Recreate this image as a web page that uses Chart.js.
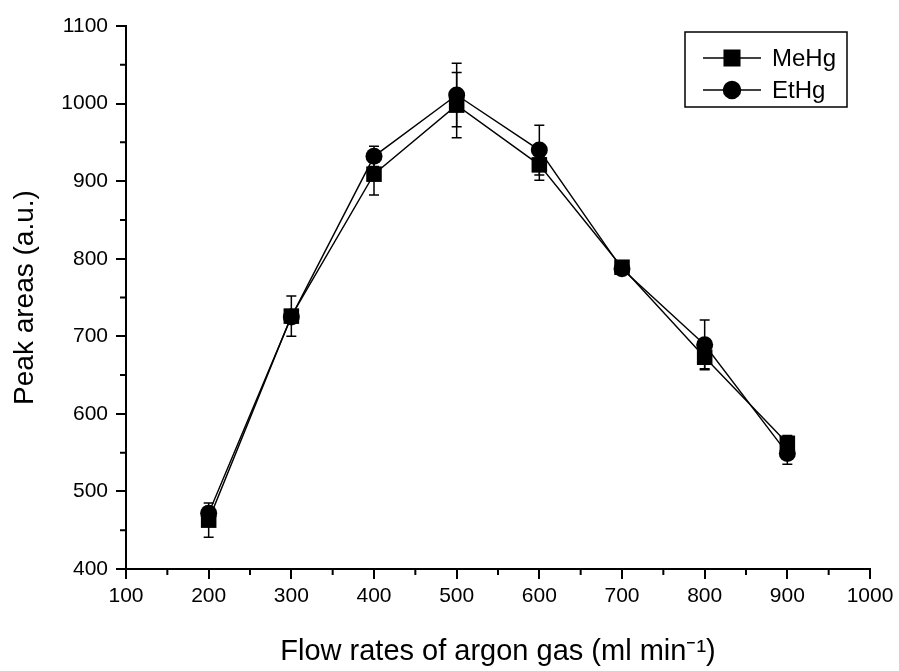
<!DOCTYPE html>
<html>
<head>
<title>Peak areas vs argon flow</title>
<script src="https://cdn.jsdelivr.net/npm/chart.js@4.4.1/dist/chart.umd.min.js"></script>
<style>
  body {margin: 0; background: #fff;}
</style>
</head>
<body>
<canvas id="flow-chart" width="899" height="671"></canvas>
<script>

// values
var flowRates = [200, 300, 400, 500, 600, 700, 800, 900];
var meHg = [463, 726, 909, 998, 921, 789, 673, 562];
var meHgErr = [22, 26, 27, 42, 20, 5, 15, 10];
var etHg = [472, 725, 932, 1011, 940, 787, 689, 549];
var etHgErr = [8, 8, 13, 41, 32, 5, 32, 14];
var xTicks = [100, 200, 300, 400, 500, 600, 700, 800, 900, 1000];
var yTicks = [400, 500, 600, 700, 800, 900, 1000, 1100];

var FONT = "'Liberation Sans', Arial, sans-serif";

function points(vals) {
  return flowRates.map(function(x, i) { return {x: x, y: vals[i]}; });
}

//error bars, drawn through the chart's own scales
var errorBars = {
  id: 'errorBars',
  beforeDatasetsDraw: function(chart) {
    var ctx = chart.ctx;
    var xs = chart.scales.x, ys = chart.scales.y;
    chart.data.datasets.forEach(function(ds) {
      ds.data.forEach(function(p, i) {
        var e = ds.errors[i];
        var px = xs.getPixelForValue(p.x);
        var top = ys.getPixelForValue(p.y + e);
        var bot = ys.getPixelForValue(p.y - e);
        ctx.save();
        ctx.strokeStyle = '#000';
        ctx.lineWidth = 1.5;
        ctx.beginPath();
        ctx.moveTo(px, top); ctx.lineTo(px, bot);
        ctx.moveTo(px - 5, top); ctx.lineTo(px + 5, top);
        ctx.moveTo(px - 5, bot); ctx.lineTo(px + 5, bot);
        ctx.stroke();
        ctx.restore();
      });
    });
  }
};

//minor ticks half way between the labelled ones
var minorTicks = {
  id: 'minorTicks',
  afterDraw: function(chart) {
    var ctx = chart.ctx;
    var xs = chart.scales.x, ys = chart.scales.y;
    var area = chart.chartArea;
    ctx.save();
    ctx.strokeStyle = '#000';
    ctx.lineWidth = 2;
    ctx.beginPath();
    for (var i = 0; i < xTicks.length - 1; i++) {
      var px = xs.getPixelForValue((xTicks[i] + xTicks[i + 1]) / 2);
      ctx.moveTo(px, area.bottom); ctx.lineTo(px, area.bottom + 6);
    }
    for (var j = 0; j < yTicks.length - 1; j++) {
      var py = ys.getPixelForValue((yTicks[j] + yTicks[j + 1]) / 2);
      ctx.moveTo(area.left, py); ctx.lineTo(area.left - 6, py);
    }
    ctx.stroke();
    ctx.restore();
  }
};

//boxed legend inside the plot, top right
var boxLegend = {
  id: 'boxLegend',
  afterDraw: function(chart) {
    var ctx = chart.ctx;
    var left = 685, top = 32, w = 162, h = 75;
    ctx.save();
    ctx.strokeStyle = '#000';
    ctx.lineWidth = 1.5;
    ctx.strokeRect(left, top, w, h);
    chart.data.datasets.forEach(function(ds, i) {
      var y = top + 26 + i * 32;
      ctx.lineWidth = 1.5;
      ctx.beginPath();
      ctx.moveTo(left + 18, y); ctx.lineTo(left + 76, y);
      ctx.stroke();
      Chart.helpers.drawPoint(ctx, {
        pointStyle: ds.pointStyle, radius: ds.pointRadius, borderWidth: 1
      }, left + 47, y);
      ctx.fillStyle = '#000';
      ctx.font = '24px ' + FONT;
      ctx.textBaseline = 'middle';
      ctx.textAlign = 'left';
      ctx.fillText(ds.label, left + 87, y + 1);
    });
    ctx.restore();
  }
};

new Chart(document.getElementById('flow-chart'), {
  type: 'line',
  data: {
    datasets: [{
      label: 'MeHg',
      data: points(meHg),
      errors: meHgErr,
      borderColor: '#000',
      backgroundColor: '#000',
      borderWidth: 1.4,
      pointStyle: 'rect',
      pointRadius: 11,
      pointBorderWidth: 0,
      fill: false
    }, {
      label: 'EtHg',
      data: points(etHg),
      errors: etHgErr,
      borderColor: '#000',
      backgroundColor: '#000',
      borderWidth: 1.4,
      pointStyle: 'circle',
      pointRadius: 8.5,
      pointBorderWidth: 0,
      fill: false
    }]
  },
  options: {
    responsive: false,
    animation: false,
    layout: {padding: {left: 0, top: 26, right: 29, bottom: 0}},
    plugins: {
      legend: {display: false},
      tooltip: {enabled: false}
    },
    scales: {
      x: {
        type: 'linear',
        min: 100,
        max: 1000,
        afterFit: function(s) { s.height = 102; },
        afterBuildTicks: function(s) { s.ticks = xTicks.map(function(v) { return {value: v}; }); },
        border: {display: true, color: '#000', width: 2},
        grid: {drawOnChartArea: false, drawTicks: true, tickLength: 10, color: '#000', lineWidth: 2},
        ticks: {color: '#000', font: {family: FONT, size: 21}, padding: 5, maxRotation: 0,
          callback: function(v) { return String(v); }},
        title: {
          display: true,
          text: 'Flow rates of argon gas (ml min\u207B\u00B9)',
          color: '#000',
          font: {family: FONT, size: 29},
          padding: {top: 0, bottom: 2}
        }
      },
      y: {
        type: 'linear',
        min: 400,
        max: 1100,
        afterFit: function(s) { s.width = 126; },
        afterBuildTicks: function(s) { s.ticks = yTicks.map(function(v) { return {value: v}; }); },
        border: {display: true, color: '#000', width: 2},
        grid: {drawOnChartArea: false, drawTicks: true, tickLength: 10, color: '#000', lineWidth: 2},
        ticks: {color: '#000', font: {family: FONT, size: 21}, padding: 8,
          callback: function(v) { return String(v); }},
        title: {
          display: true,
          text: 'Peak areas (a.u.)',
          color: '#000',
          font: {family: FONT, size: 28},
          padding: {top: 8, bottom: 0}
        }
      }
    }
  },
  plugins: [errorBars, minorTicks, boxLegend]
});

</script>
</body>
</html>
